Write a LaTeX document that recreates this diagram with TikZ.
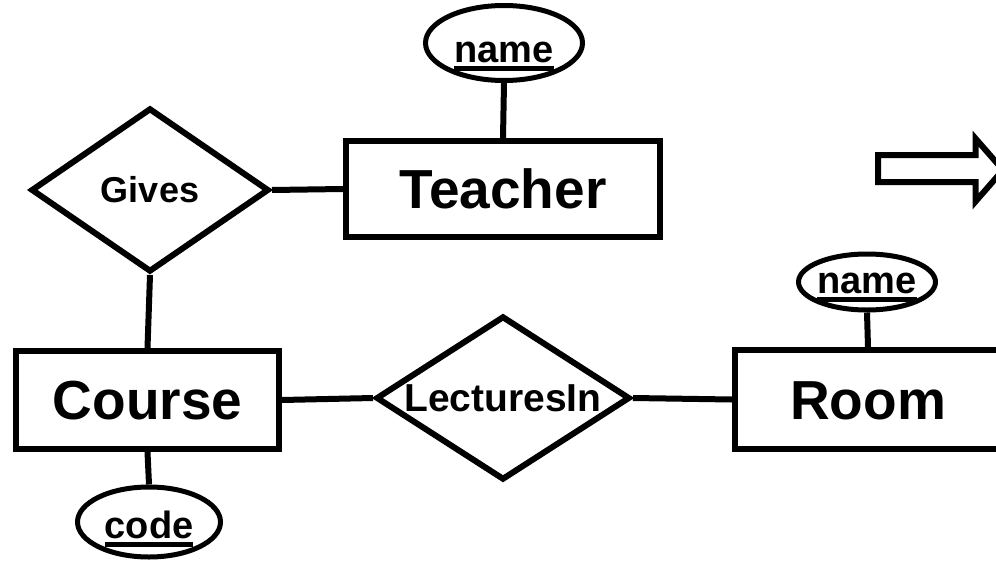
\documentclass[tikz,border=0pt]{standalone}
\usepackage{fontspec}
\setmainfont{Liberation Sans}
\usetikzlibrary{shapes.geometric}

% underlined key attribute: thick bar below the baseline, zero-width box
\newcommand\keyul[1]{\setbox0=\hbox{#1}\makebox[0pt]{\rlap{\copy0}\raisebox{-9pt}{\rule{\wd0}{5pt}}}}

\begin{document}
\begin{tikzpicture}[x=1pt,y=-1pt,
  entity/.style={draw, rectangle, line width=6pt, inner sep=0pt,
    text height=39.4pt, text depth=0pt,
    font=\fontsize{55}{60}\selectfont\bfseries},
  rel/.style={draw, diamond, line width=6pt, inner sep=0pt, text depth=0pt},
  attr/.style={draw, ellipse, line width=5pt, inner sep=0pt, text depth=0pt,
    font=\fontsize{38}{42}\selectfont\bfseries},
  link/.style={line width=6pt}]
\clip (0,0) rectangle (996,562);
\fill[white] (0,0) rectangle (996,562);

% entities
\node[entity, minimum width=314pt, minimum height=96pt] (teacher) at (503,189) {Teacher};
\node[entity, minimum width=263pt, minimum height=98pt] (course) at (147.5,400) {Course};
\node[entity, minimum width=266pt, minimum height=99pt] (room) at (868,399.5) {Room};

% relationships
\node[rel, minimum width=238pt, minimum height=164pt, text height=25.8pt,
  font=\fontsize{36}{40}\selectfont\bfseries] (gives) at (150,190) {\makebox[0pt]{Gives}};
\node[rel, minimum width=254pt, minimum height=164pt, text height=27.9pt,
  font=\fontsize{39}{43}\selectfont\bfseries] (lect) at (503,398) {\makebox[0pt]{LecturesIn}};

% key attributes
\node[attr, minimum width=157pt, minimum height=75pt, text height=38pt] (tname) at (504,43) {\keyul{name}};
\node[attr, minimum width=137pt, minimum height=56pt, text height=22pt] (rname) at (867,282) {\keyul{name}};
\node[attr, minimum width=143pt, minimum height=70pt, text height=32pt] (code) at (149,522) {\keyul{code}};

% connectors
\draw[link] (gives.east) -- (teacher.west);
\draw[link] (gives.south) -- (course.north);
\draw[link] (course.east) -- (lect.west);
\draw[link] (lect.east) -- (room.west);
\draw[link] (tname.south) -- (teacher.north);
\draw[link] (rname.south) -- (room.north);
\draw[link] (course.south) -- (code.north);

% block arrow
\draw[line width=6pt, miter limit=10] (878,155) -- (975.5,155) -- (975.5,138.5)
  -- (1003,170) -- (975.5,201.5) -- (975.5,182) -- (878,182) -- cycle;
\end{tikzpicture}
\end{document}
